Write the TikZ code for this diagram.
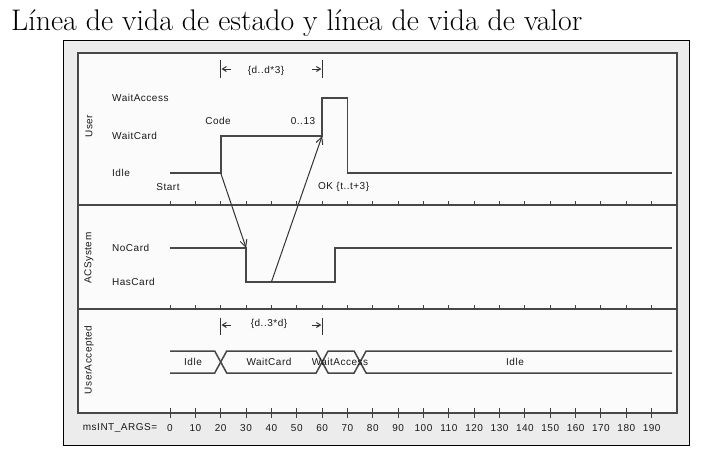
\documentclass[tikz,border=0pt]{standalone}
\usepackage{fontspec}
\setsansfont{Liberation Sans}[LetterSpace=5.0]
\usetikzlibrary{arrows.meta}
\begin{document}
\begin{tikzpicture}[x=1pt,y=-1pt,
  lbl/.style={font=\sffamily\fontsize{10}{11}\selectfont, inner sep=0pt, text=black!90},
  lane/.style={lbl, rotate=90},
  life/.style={draw=black!72, line width=1.7pt},
  msg/.style={draw=black!80, line width=1pt, -{Straight Barb[length=7pt,width=7pt]}},
  cons/.style={draw=black!80, line width=1pt},
  consarrow/.style={draw=black!80, line width=1pt, -{Straight Barb[length=4pt,width=5pt]}},
  tick/.style={draw=black!75, line width=1pt}
]
\useasboundingbox (0,0) rectangle (707,458);
% frames
\draw[fill=gray!15, draw=black, line width=1pt] (63,40) rectangle (689,445);
\draw[fill=white!97!gray, draw=black!72, line width=1.6pt] (78,53) rectangle (677,413);
\draw[draw=black!72, line width=1.5pt] (78,205) -- (677,205);
\draw[draw=black!72, line width=1.5pt] (78,309) -- (677,309);
% ticks
\foreach \v in {0,10,...,190}{
  \draw[tick] ({170+\v*2.535},205) -- ++(0,-4);
  \draw[tick] ({170+\v*2.535},309) -- ++(0,-4);
  \draw[tick] ({170+\v*2.535},408) -- ++(0,10);
  \node[lbl] (ax\v) at ({170+\v*2.535},428) {\v};
}
\node[lbl] (args) at (120,428) {msINT\_ARGS=};
% title
\node[anchor=base west, inner sep=0pt, font=\fontsize{29.8}{31}\selectfont] (title) at (11,30) {Línea de vida de estado y línea de vida de valor};
% lane labels
\node[lane] (lUser) at (89,126) {User};
\node[lane] (lAC) at (89,258) {ACSystem};
\node[lane] (lUA) at (89,360) {UserAccepted};
% state labels
\node[lbl, anchor=west] (sWA) at (112,98) {WaitAccess};
\node[lbl, anchor=west] (sWC) at (112,136) {WaitCard};
\node[lbl, anchor=west] (sId) at (112,173) {Idle};
\node[lbl, anchor=west] (sNC) at (112,248) {NoCard};
\node[lbl, anchor=west] (sHC) at (112,282) {HasCard};
% User lifeline
\draw[life] (170,173) -- (220.7,173) -- (220.7,136) -- (322.1,136) -- (322.1,98) -- (347.5,98) -- (347.5,173) -- (672,173);
% ACSystem lifeline
\draw[life] (170,248) -- (246.1,248) -- (246.1,282) -- (334.8,282) -- (334.8,248) -- (672,248);
% message coordinates
\coordinate (uStart) at (220.7,173);
\coordinate (acNo) at (246.1,248);
\coordinate (acHas) at (271.4,282);
\coordinate (uWC) at (322.1,136);
\draw[msg] (uStart) -- (acNo);
\draw[msg] (acHas) -- (uWC);
% event labels
\node[lbl] (code) at (218,121) {Code};
\node[lbl] (range) at (303,121) {0..13};
\node[lbl] (start) at (168,187) {Start};
\node[lbl, anchor=west] (ok) at (318,187) {OK \{t..t+3\}};
% constraint top
\coordinate (c1a) at (220.7,60); \coordinate (c1b) at (220.7,78);
\coordinate (c2a) at (322.1,60); \coordinate (c2b) at (322.1,78);
\draw[cons] (c1a) -- (c1b);
\draw[cons] (c2a) -- (c2b);
\coordinate (a1) at (231,69); \coordinate (a1e) at (221.5,69);
\coordinate (a2) at (312,69); \coordinate (a2e) at (321.3,69);
\draw[consarrow] (a1) -- (a1e);
\draw[consarrow] (a2) -- (a2e);
\node[lbl] (ct1) at (266,71) {\{d..d*3\}};
% value lifeline
\draw[life, line width=1.5pt] (170,351) -- (214.7,351) -- (226.7,373) -- (316.1,373) -- (328.1,351) -- (354.1,351) -- (366.1,373) -- (672,373);
\draw[life, line width=1.5pt] (170,373) -- (214.7,373) -- (226.7,351) -- (316.1,351) -- (328.1,373) -- (354.1,373) -- (366.1,351) -- (672,351);
\node[lbl] (v1) at (193,362) {Idle};
\node[lbl] (v2) at (269,362) {WaitCard};
\node[lbl] (v3) at (340,362) {WaitAccess};
\node[lbl] (v4) at (515,362) {Idle};
% constraint bottom
\coordinate (d1a) at (220.7,318); \coordinate (d1b) at (220.7,335);
\coordinate (d2a) at (322.1,318); \coordinate (d2b) at (322.1,335);
\draw[cons] (d1a) -- (d1b);
\draw[cons] (d2a) -- (d2b);
\coordinate (b1) at (231,325); \coordinate (b1e) at (221.5,325);
\coordinate (b2) at (312,325); \coordinate (b2e) at (321.3,325);
\draw[consarrow] (b1) -- (b1e);
\draw[consarrow] (b2) -- (b2e);
\node[lbl] (ct2) at (269,324) {\{d..3*d\}};
\end{tikzpicture}
\end{document}
